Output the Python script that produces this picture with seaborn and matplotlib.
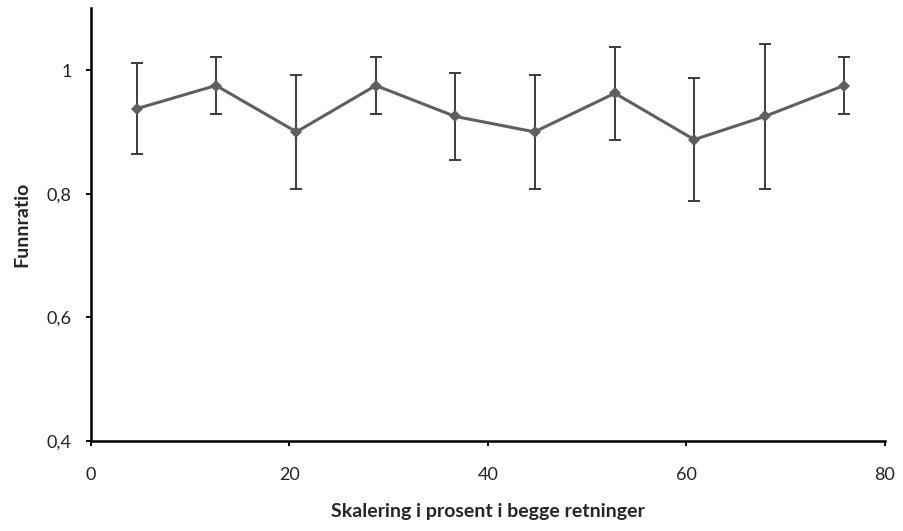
import matplotlib
matplotlib.use("Agg")
import matplotlib.pyplot as plt
from matplotlib.ticker import FuncFormatter, MultipleLocator
import seaborn as sns
import pandas as pd

# Values
skalering = [4.6, 12.6, 20.7, 28.7, 36.7, 44.7, 52.8, 60.8, 67.9, 75.9]
funnratio = [0.9375, 0.975, 0.9, 0.975, 0.925, 0.9, 0.9625, 0.8875, 0.925, 0.975]
feil = [0.074, 0.046, 0.092, 0.046, 0.071, 0.092, 0.075, 0.099, 0.117, 0.046]

df = pd.DataFrame({'x': skalering, 'y': funnratio, 'err': feil})

sns.set_style('white')
plt.rcParams['font.family'] = ['Lato', 'DejaVu Sans']

fig = plt.figure(figsize=(9.04, 5.31), dpi=100)
ax = fig.add_axes([0.1007, 0.1695, 0.878, 0.815])

# error bars first, then the line with diamond markers on top
ax.errorbar(df['x'], df['y'], yerr=df['err'], fmt='none', ecolor='#3c3c3c',
            elinewidth=1.4, capsize=4, capthick=1.4, zorder=2)
sns.lineplot(data=df, x='x', y='y', ax=ax, color='#5f5f5f', linewidth=2.2,
             marker='D', markersize=6, markeredgewidth=0, zorder=3)

ax.set_xlim(0, 80)
ax.set_ylim(0.4, 1.1)
ax.xaxis.set_major_locator(MultipleLocator(20))
ax.set_yticks([0.4, 0.6, 0.8, 1.0])
ax.yaxis.set_major_formatter(FuncFormatter(lambda v, p: f"{v:g}".replace('.', ',')))

for side in ['top', 'right']:
    ax.spines[side].set_visible(False)
for side in ['left', 'bottom']:
    ax.spines[side].set_color('black')
    ax.spines[side].set_linewidth(1.8)

ax.tick_params(axis='both', direction='out', length=3.8, width=1.4, color='black',
               labelsize=13, labelcolor='#222222', left=True, bottom=True)
ax.tick_params(axis='x', pad=15)
ax.tick_params(axis='y', pad=10)

ax.set_xlabel('Skalering i prosent i begge retninger', fontsize=14,
              fontweight='bold', labelpad=14)
ax.set_ylabel('Funnratio', fontsize=14, fontweight='bold', labelpad=12)

fig.savefig('out.png', dpi=100)
